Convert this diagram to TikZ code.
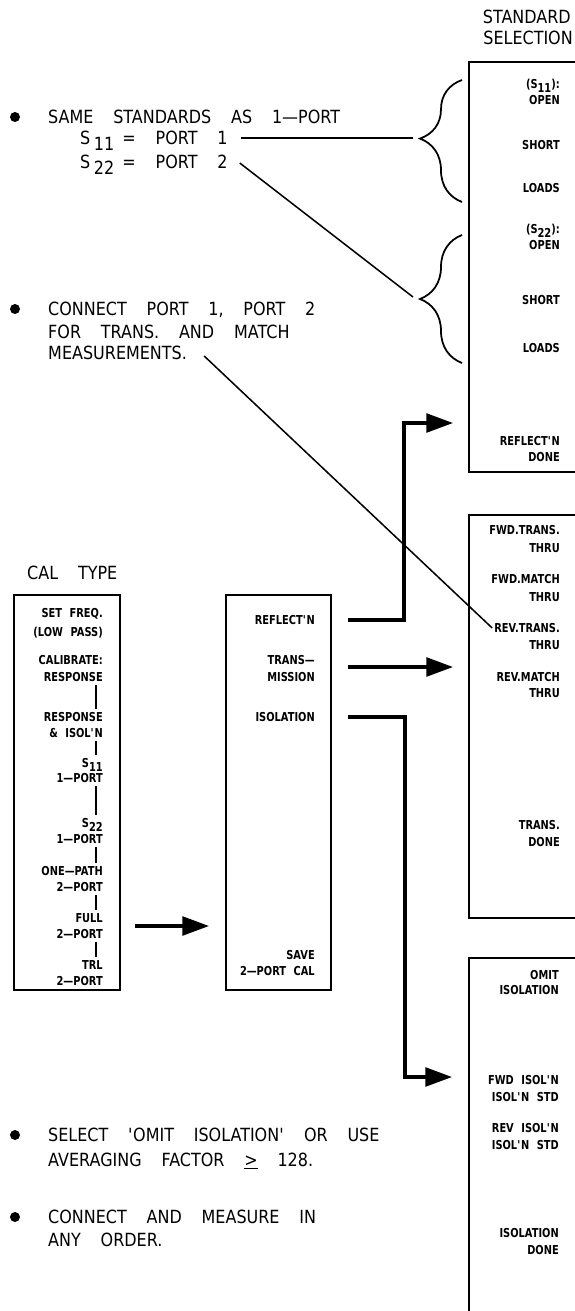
\documentclass[tikz,border=0pt]{standalone}
\usepackage{fontspec}
\usetikzlibrary{arrows.meta,positioning,calc,fit,decorations.pathreplacing}
\newfontfamily\plotfont{DejaVu Sans}[FakeStretch=0.88,WordSpace=3.9]
\newfontfamily\keyfont{DejaVu Sans}[FakeStretch=0.8,WordSpace=2.2]
\newcommand{\lowsub}[2][-0.3em]{\raisebox{#1}{#2}}
\newcommand{\apos}{\textquotesingle}
\tikzset{
  note/.style={font=\plotfont\fontsize{15.5}{18}\selectfont, inner sep=0pt,
    text height=11.3pt, text depth=0pt, anchor=west},
  softkey/.style={font=\keyfont\bfseries\fontsize{10.5}{12}\selectfont, inner sep=0pt,
    text height=7.7pt, text depth=0pt, anchor=east},
  panel/.style={draw, line width=1.6pt, inner sep=0pt},
  callout/.style={line width=1.3pt},
  fatarr/.style={line width=3pt, -{Triangle[length=8mm,width=5.6mm]}},
  optbar/.style={line width=1.8pt},
  curly/.style={line width=1.5pt, decorate, decoration={brace, amplitude=1.26cm, aspect=#1}},
  curly/.default=0.5,
  bullet/.style={circle, fill, inner sep=0pt, minimum size=3mm},
}

\begin{document}
\begin{tikzpicture}[x=0.03cm, y=-0.03cm]
  \useasboundingbox (0,0) rectangle (574,1311);

  % menu panels
  \node[note, anchor=east] (head1) at (571,17) {STANDARD};
  \node[note, anchor=east] (head2) at (573,38) {SELECTION};
  \node[panel, fit={(469,62) (620,472)}] (stdsel) {};
  \node[panel, fit={(469,515) (620,918)}] (transsel) {};
  \node[panel, fit={(469,958) (620,1340)}] (isosel) {};
  \node[note] (caltitle) at (27,573) {CAL TYPE};
  \node[panel, fit={(14,595) (120,990)}] (caltype) {};
  \node[panel, fit={(226,595) (331,990)}] (twoport) {};

  % softkey labels
  \foreach \txt/\y [count=\i] in {{(S\lowsub{11}):}/84, OPEN/100, SHORT/145, LOADS/188,
      {(S\lowsub{22}):}/229, OPEN/245, SHORT/300, LOADS/348, REFLECT\apos N/441, DONE/457}
    \node[softkey] (std\i) at (560,\y) {\txt};
  \foreach \txt/\y [count=\i] in {FWD.TRANS./530, THRU/548, FWD.MATCH/579, THRU/597,
      REV.TRANS./628, THRU/645, REV.MATCH/677, THRU/693, TRANS./825, DONE/842}
    \node[softkey] (tr\i) at (560,\y) {\txt};
  \foreach \txt/\y [count=\i] in {OMIT/975, ISOLATION/990, FWD ISOL\apos N/1080,
      ISOL\apos N STD/1097, REV ISOL\apos N/1128, ISOL\apos N STD/1145, ISOLATION/1233, DONE/1250}
    \node[softkey] (iso\i) at (559,\y) {\txt};
  \foreach \txt/\y [count=\i] in {SET FREQ./613, (LOW PASS)/632, CALIBRATE:/660,
      RESPONSE/677, RESPONSE/717, \& ISOL\apos N/733, S\lowsub{11}/763, 1—PORT/778,
      S\lowsub{22}/823, 1—PORT/839, ONE—PATH/871, 2—PORT/887, FULL/918, 2—PORT/934,
      TRL/965, 2—PORT/981}
    \node[softkey] (cal\i) at (103,\y) {\txt};
  \foreach \txt/\y [count=\i] in {REFLECT\apos N/620, TRANS—/660, MISSION/677,
      ISOLATION/717, SAVE/955, 2—PORT CAL/971}
    \node[softkey] (tp\i) at (315,\y) {\txt};

  \coordinate (barx) at (96,0);
  \foreach \a/\b in {4/5, 6/7, 8/9, 10/11, 12/13, 14/15}
    \draw[optbar, shorten <=3pt, shorten >=3pt] (cal\a.south -| barx) -- (cal\b.north -| barx);

  % notes
  \node[bullet] (dot1) at (15,117) {};
  \node[note] (same) at (48,117) {SAME STANDARDS AS 1—PORT};
  \node[note] (s11) at (80,138) {S\kern3pt\lowsub{11}\kern7pt= PORT 1};
  \node[note] (s22) at (80,162) {S\kern3pt\lowsub{22}\kern7pt= PORT 2};
  \node[bullet] (dot2) at (15,309) {};
  \node[note] (conn) at (48,309) {CONNECT PORT 1, PORT 2};
  \node[note] (fortr) at (48,332) {FOR TRANS. AND MATCH};
  \node[note] (meas) at (48,353) {MEASUREMENTS.};
  \node[bullet] (dot3) at (15,1135) {};
  \node[note] (omit) at (48,1135) {SELECT \apos OMIT ISOLATION\apos\ OR USE};
  \node[note] (avg) at (48,1160) {AVERAGING FACTOR \underline{>} 128.};
  \node[bullet] (dot4) at (15,1217) {};
  \node[note] (anyo) at (48,1217) {CONNECT AND MEASURE IN};
  \node[note] (anyo2) at (48,1240) {ANY ORDER.};

  % braces and callouts
  \draw[curly=0.52] (462,202) -- (462,80);
  \draw[curly=0.5] (462,363) -- (462,235);
  \coordinate (tip1) at (420,138);
  \coordinate (tip2) at (421,299);
  \draw[callout] ($(s11.east)+(13,0)$) -- ($(tip1)+(-7,0)$);
  \draw[callout] ($(s22.east)+(12,1)$) -- ($(tip2)+(-8,-2)$);
  \draw[callout] ($(meas.east)+(17,3)$) -- ($(tr5.west)+(-2,0)$);

  % flow arrows
  \coordinate (calout) at (135,926);
  \draw[fatarr, shorten >=4.8mm] (calout) -- (calout -| twoport.west);
  \coordinate (reflout) at ($(tp1 -| twoport.east)+(16,0)$);
  \coordinate (transout) at ($(tp2 -| twoport.east)+(16,7)$);
  \coordinate (isoout) at ($(tp4 -| twoport.east)+(16,0)$);
  \coordinate (refljog) at (404,423);
  \coordinate (isojog) at (405,1077);
  \draw[fatarr, shorten >=4.5mm] (reflout) -| (refljog) -- (refljog -| stdsel.west);
  \draw[fatarr, shorten >=4.5mm] (transout) -- (transout -| transsel.west);
  \draw[fatarr, shorten >=4.8mm] (isoout) -| (isojog) -- (isojog -| isosel.west);
\end{tikzpicture}
\end{document}
